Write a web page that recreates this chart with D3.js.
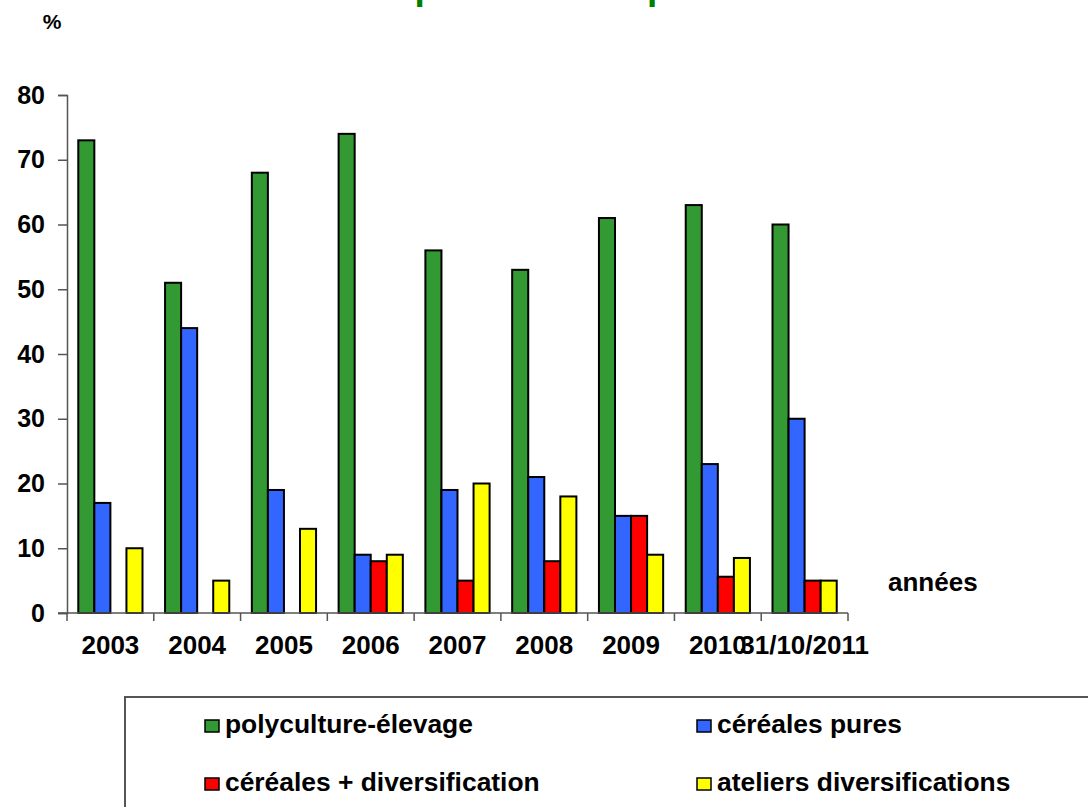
<!DOCTYPE html>
<html>
<head>
<meta charset="utf-8">
<script src="https://cdn.jsdelivr.net/npm/d3@7"></script>
<style>
    body { margin:0; background:#fff; }
    svg text { font-family:"Liberation Sans", Arial, sans-serif; font-weight:bold; }
</style>
</head>
<body>
<svg id="chart"></svg>
<script>

// data
var years = ["2003","2004","2005","2006","2007","2008","2009","2010","31/10/2011"];
var seriesNames = ["polyculture-élevage","céréales pures","céréales + diversification","ateliers diversifications"];
var polyculture = [73,51,68,74,56,53,61,63,60];
var cerealesPures = [17,44,19,9,19,21,15,23,30];
var cerealesDiv = [0,0,0,8,5,8,15,5.6,5];
var ateliers = [10,5,13,9,20,18,9,8.5,5];
var yTicks = [0,10,20,30,40,50,60,70,80];
var colors = ["#339933","#3366FF","#FF0000","#FFFF00"];

var screen = {width:1088, height:807};
var margins = {top:95, bottom:194, left:67, right:240};

var graph =
{
    width:screen.width-margins.left-margins.right,
    height:screen.height-margins.top-margins.bottom
}

var allSeries = [polyculture,cerealesPures,cerealesDiv,ateliers];

var rows = years.map(function(y,i)
{
    return {year:y, values:allSeries.map(function(s,j)
    {
        return {key:seriesNames[j], value:s[i], color:colors[j]};
    })};
});

var xScale = d3.scaleBand()
    .domain(years)
    .range([margins.left, margins.left+graph.width]);

var groupWidth = xScale.bandwidth()*0.74;

var x1Scale = d3.scaleBand()
    .domain(seriesNames)
    .range([0, groupWidth]);

var yScale = d3.scaleLinear()
    .domain([0,80])
    .range([margins.top+graph.height, margins.top]);

var svg = d3.select("#chart")
    .attr("width",screen.width)
    .attr("height",screen.height);

// title, mostly cut off at top edge (as in the original)
svg.append("text")
    .attr("x",614)
    .attr("y",-1)
    .attr("text-anchor","middle")
    .attr("fill","#008000")
    .style("font-size","37px")
    .text("Répartition des productions");

svg.append("text")
    .attr("x",52)
    .attr("y",29)
    .attr("text-anchor","middle")
    .style("font-size","21px")
    .text("%");

var drawBars = function()
{
    var groups = svg.append("g")
        .selectAll("g")
        .data(rows)
        .enter()
        .append("g")
        .attr("transform",function(d)
        {
            var off = xScale(d.year)+(xScale.bandwidth()-groupWidth)/2;
            return "translate("+off+",0)";
        });

    groups.selectAll("rect")
        .data(function(d){ return d.values.filter(function(v){ return v.value>0; }); })
        .enter()
        .append("rect")
        .attr("x",function(d){ return x1Scale(d.key); })
        .attr("y",function(d){ return yScale(d.value); })
        .attr("width",x1Scale.bandwidth())
        .attr("height",function(d){ return yScale(0)-yScale(d.value); })
        .attr("fill",function(d){ return d.color; })
        .attr("stroke","#000")
        .attr("stroke-width",2);
}

var drawAxes = function()
{
    var axisColor = "#555";

    var yAxis = d3.axisLeft(yScale)
        .tickValues(yTicks)
        .tickSize(9)
        .tickPadding(13);

    var yg = svg.append("g")
        .attr("transform","translate("+margins.left+",0)")
        .call(yAxis);
    yg.select(".domain").attr("stroke",axisColor).attr("stroke-width",1.5);
    yg.selectAll(".tick line").attr("stroke",axisColor).attr("stroke-width",1.5);
    yg.selectAll(".tick text")
        .attr("fill","#000")
        .style("font-size","25px")
        .style("font-family","'Liberation Sans', Arial, sans-serif")
        .style("font-weight","bold");

    var xAxis = d3.axisBottom(xScale)
        .tickSize(0)
        .tickPadding(23);

    var xg = svg.append("g")
        .attr("transform","translate(0,"+yScale(0)+")")
        .call(xAxis);
    xg.select(".domain").remove();
    xg.selectAll(".tick text")
        .attr("fill","#000")
        .style("font-size","26px")
        .style("font-family","'Liberation Sans', Arial, sans-serif")
        .style("font-weight","bold");

    svg.append("line")
        .attr("x1",margins.left-9)
        .attr("x2",margins.left+graph.width)
        .attr("y1",yScale(0))
        .attr("y2",yScale(0))
        .attr("stroke",axisColor)
        .attr("stroke-width",1.5);

    var bounds = years.map(function(y){ return xScale(y); });
    bounds.push(margins.left+graph.width);
    svg.append("g")
        .selectAll("line")
        .data(bounds)
        .enter()
        .append("line")
        .attr("x1",function(d){ return d; })
        .attr("x2",function(d){ return d; })
        .attr("y1",yScale(0))
        .attr("y2",yScale(0)+8)
        .attr("stroke",axisColor)
        .attr("stroke-width",1.5);

    svg.append("text")
        .attr("x",888)
        .attr("y",591)
        .style("font-size","26px")
        .text("années");
}

var drawLegend = function()
{
    var legend = svg.append("g");
    legend.append("rect")
        .attr("x",125)
        .attr("y",697)
        .attr("width",1000)
        .attr("height",200)
        .attr("fill","none")
        .attr("stroke","#555")
        .attr("stroke-width",2);

    var pos = [[205,733],[697,733],[205,791],[697,791]];

    var items = legend.selectAll("g.item")
        .data(seriesNames)
        .enter()
        .append("g")
        .attr("class","item")
        .attr("transform",function(d,i){ return "translate("+pos[i][0]+","+pos[i][1]+")"; });

    items.append("rect")
        .attr("x",0)
        .attr("y",-13)
        .attr("width",14)
        .attr("height",12)
        .attr("fill",function(d,i){ return colors[i]; })
        .attr("stroke","#000")
        .attr("stroke-width",1.5);

    items.append("text")
        .attr("x",20)
        .attr("y",0)
        .style("font-size","26.4px")
        .text(function(d){ return d; });
}

drawBars();
drawAxes();
drawLegend();

</script>
</body>
</html>
